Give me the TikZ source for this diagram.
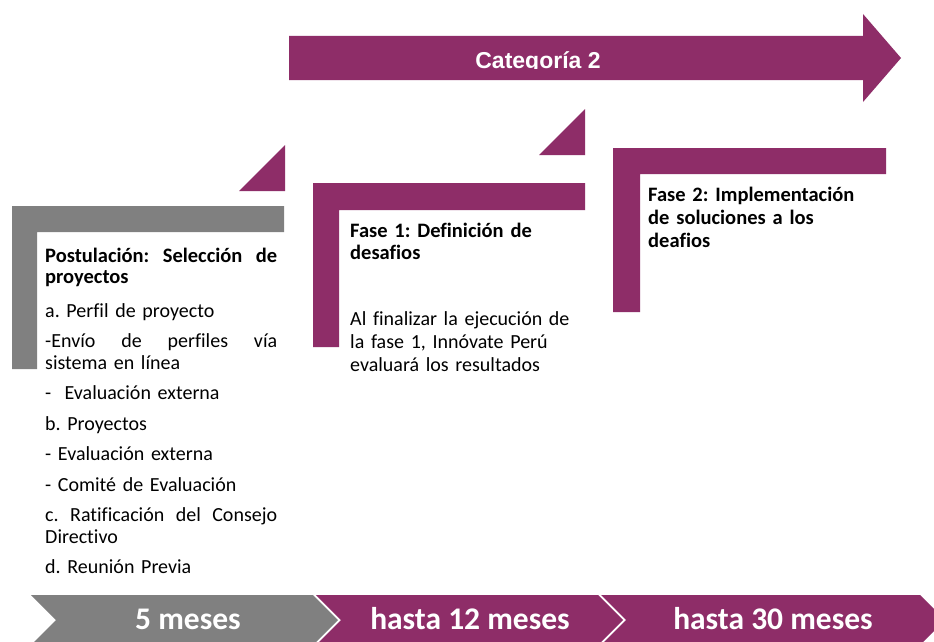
\documentclass[tikz,border=0pt]{standalone}
\usepackage{fontspec}
\setmainfont{Carlito}[Ligatures=NoCommon]
\newfontfamily\arialfont{Liberation Sans}
\definecolor{innovaMagenta}{RGB}{142, 45, 104}
\definecolor{innovaGray}{RGB}{128, 128, 128}
\newcommand{\spreadline}[1]{\leavevmode\hbox to \linewidth{#1}}
\frenchspacing
\hyphenpenalty=10000
\exhyphenpenalty=10000

\begin{document}
\begin{tikzpicture}[
    x=1pt, y=-1pt,
    bodytext/.style={
        inner sep=0pt,
        anchor=base west,
        align=left,
        text=black,
        font=\fontsize{20}{23}\selectfont
    },
    headtext/.style={bodytext, font=\bfseries\fontsize{20.5}{23}\selectfont},
    stagelabel/.style={
        inner sep=0pt,
        anchor=base,
        text=white,
        font=\bfseries\fontsize{31.5}{32}\selectfont
    }
]
    \fill[white] (0,0) rectangle (934,642);
    \useasboundingbox (0,0) rectangle (934,642);

    % Category arrow
    \fill[innovaMagenta] (289,36) -- (863,36) -- (863,14) -- (901,58)
        -- (863,102) -- (863,80) -- (289,80) -- cycle;
    \begin{scope}
        \clip (289,36) rectangle (863,69);
        \node[inner sep=0pt, anchor=base, text=white,
            font=\arialfont\bfseries\fontsize{23}{23}\selectfont]
            (categoria) at (538,68) {Categoría 2};
    \end{scope}

    % Steps
    \fill[innovaGray] (12,206) -- (284,206) -- (284,232) -- (37,232)
        -- (37,369) -- (12,369) -- cycle;
    \fill[innovaMagenta] (239,191) -- (285,191) -- (285,145) -- cycle;
    \fill[innovaMagenta] (313,183) -- (585,183) -- (585,210) -- (339,210)
        -- (339,347) -- (313,347) -- cycle;
    \fill[innovaMagenta] (539,155) -- (585,155) -- (585,109) -- cycle;
    \fill[innovaMagenta] (613,148) -- (886,148) -- (886,174) -- (640,174)
        -- (640,312) -- (613,312) -- cycle;

    % Texts
    \node[bodytext, text width=232pt, font=\fontsize{20}{21.5}\selectfont]
        (postulacion) at (45,262) {%
        \setlength{\parskip}{9pt}%
        {\bfseries\fontsize{20.5}{21.5}\selectfont
        \spreadline{Postulación:\hfill Selección\hfill de}\\proyectos\par}
        \vspace{3pt}
        a. Perfil de proyecto\par
        \spreadline{-Envío\hfill de\hfill perfiles\hfill vía}\\sistema en línea\par
        -\ \ Evaluación externa\par
        b. Proyectos\par
        - Evaluación externa\par
        - Comité de Evaluación\par
        \spreadline{c.\hfill Ratificación\hfill del\hfill Consejo}\\Directivo\par
        d. Reunión Previa};
    \node[headtext, text width=225pt, font=\bfseries\fontsize{20.5}{22}\selectfont]
        (fase1) at (350,237) {Fase 1: Definición de desafios};
    \node[bodytext, text width=225pt] (fase1text) at (350,325)
        {Al finalizar la ejecución de la fase 1, Innóvate Perú evaluará los resultados};
    \node[headtext, text width=222pt] (fase2) at (648,201)
        {Fase 2: Implementación de soluciones a los deafios};

    % Timeline
    \fill[innovaGray] (31,595) -- (313,595) -- (338,620) -- (313,645)
        -- (31,645) -- (56,620) -- cycle;
    \fill[innovaMagenta] (316,595) -- (598,595) -- (623,620) -- (598,645)
        -- (316,645) -- (341,620) -- cycle;
    \fill[innovaMagenta] (601,595) -- (920,595) -- (945,620) -- (920,645)
        -- (601,645) -- (626,620) -- cycle;
    \node[stagelabel] (mes5) at (188,629) {5 meses};
    \node[stagelabel] (mes12) at (470,629) {hasta 12 meses};
    \node[stagelabel] (mes30) at (773,629) {hasta 30 meses};

\end{tikzpicture}
\end{document}
